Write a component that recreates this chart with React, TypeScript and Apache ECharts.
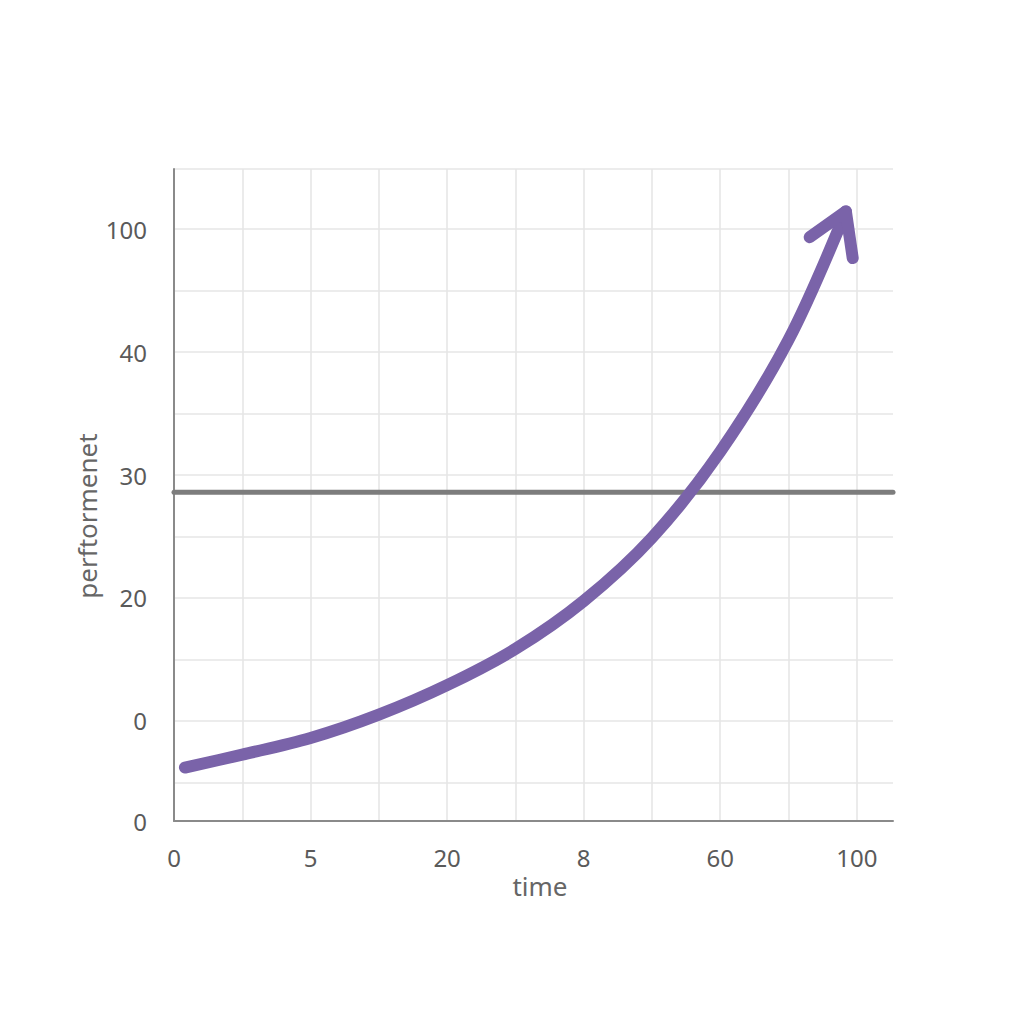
import React, { useEffect, useRef } from "react";
import * as echarts from "echarts";

// Axis grid (in chart units: one unit = one grid cell)
const xGridValues = [0, 1, 2, 3, 4, 5, 6, 7, 8, 9, 10];
const yGridValues = [-1, 0, 1, 2, 3, 4, 5, 6, 7, 8, 8.98];
const xMin = 0;
const xMax = 10.53;
const yMin = -1.63;
const yMax = 8.98;

// Tick labels as printed on the reference
const xTickValues = [0, 2, 4, 6, 8, 10];
const xTickLabels = ["0", "5", "20", "8", "60", "100"];
const yTickValues = [-1.63, 0, 2, 4, 6, 8];
const yTickLabels = ["0", "0", "20", "30", "40", "100"];

// Growth curve
const curveX = [0.16, 1, 2, 3, 4, 5, 6, 7, 8, 9, 9.84];
const curveY = [-0.76, -0.55, -0.28, 0.1, 0.58, 1.17, 1.95, 2.98, 4.38, 6.2, 8.29];

// Arrow head wings
const arrowX = [9.31, 9.84, 9.94];
const arrowY = [7.87, 8.29, 7.53];

// Horizontal reference line
const thresholdValue = 3.72;

const xAxisName = "time";
const yAxisName = "perftormenet";

const PURPLE = "#7a63a9";
const FONT = "Noto Sans";

export default function App() {
  const ref = useRef<HTMLDivElement>(null);

  useEffect(() => {
    if (!ref.current) return;
    const chart = echarts.init(ref.current, undefined, { renderer: "svg" });

    const xLabelFor = (v: number) => {
      const i = xTickValues.findIndex((t) => Math.abs(t - v) < 1e-6);
      return i >= 0 ? xTickLabels[i] : "";
    };
    const yLabelFor = (v: number) => {
      const i = yTickValues.findIndex((t) => Math.abs(t - v) < 1e-6);
      return i >= 0 ? yTickLabels[i] : "";
    };

    chart.setOption({
      animation: false,
      backgroundColor: "#ffffff",
      grid: { left: 174, top: 169, right: 131, bottom: 203, containLabel: false },
      xAxis: {
        type: "value",
        min: xMin,
        max: xMax,
        axisLine: { show: true, onZero: false, lineStyle: { color: "#8a8a8a", width: 2 } },
        axisTick: { show: false, customValues: xGridValues },
        axisLabel: {
          customValues: xTickValues,
          formatter: (v: number) => xLabelFor(v),
          color: "#5a5a5a",
          fontSize: 24,
          fontFamily: FONT,
          margin: 24,
        },
        splitLine: { show: true, showMinLine: false, lineStyle: { color: "#e6e6e6", width: 1.6 } },
      },
      yAxis: {
        type: "value",
        min: yMin,
        max: yMax,
        axisLine: { show: true, onZero: false, lineStyle: { color: "#8a8a8a", width: 2 } },
        axisTick: { show: false, customValues: yGridValues },
        axisLabel: {
          customValues: yTickValues,
          formatter: (v: number) => yLabelFor(v),
          color: "#5a5a5a",
          fontSize: 24,
          fontFamily: FONT,
          margin: 27,
        },
        splitLine: { show: true, lineStyle: { color: "#e6e6e6", width: 1.6 } },
      },
      graphic: [
        {
          type: "text",
          x: 540,
          y: 886,
          style: {
            text: xAxisName,
            fill: "#666666",
            font: `26px "${FONT}"`,
            align: "center",
            verticalAlign: "middle",
          },
        },
        {
          type: "text",
          x: 87,
          y: 516,
          rotation: Math.PI / 2,
          style: {
            text: yAxisName,
            fill: "#666666",
            font: `26px "${FONT}"`,
            align: "center",
            verticalAlign: "middle",
          },
        },
      ],
      series: [
        {
          type: "line",
          data: [
            [xMin, thresholdValue],
            [xMax, thresholdValue],
          ],
          showSymbol: false,
          lineStyle: { color: "#7d7d7d", width: 5, cap: "round" },
          z: 2,
        },
        {
          type: "line",
          data: curveX.map((x, i) => [x, curveY[i]]),
          smooth: 0.33,
          showSymbol: false,
          lineStyle: { color: PURPLE, width: 12, cap: "round", join: "round" },
          z: 3,
        },
        {
          type: "line",
          data: arrowX.map((x, i) => [x, arrowY[i]]),
          showSymbol: false,
          lineStyle: { color: PURPLE, width: 12, cap: "round", join: "round" },
          z: 3,
        },
      ],
    });

    return () => chart.dispose();
  }, []);

  return (
    <div
      ref={ref}
      style={{ position: "fixed", left: 0, top: 0, width: 1024, height: 1024, background: "#ffffff" }}
    />
  );
}
